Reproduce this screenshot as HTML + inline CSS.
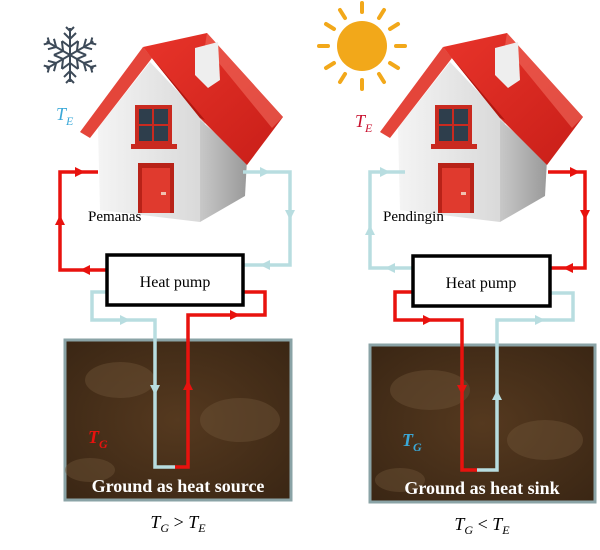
<!DOCTYPE html>
<html><head><meta charset="utf-8"><style>
body{margin:0;background:#fff;width:600px;height:545px;overflow:hidden}
svg text{font-family:"Liberation Serif",serif}
</style></head><body>
<svg width="600" height="545" viewBox="0 0 600 545" xmlns="http://www.w3.org/2000/svg">
<defs>
<linearGradient id="wall" x1="0" y1="0" x2="1" y2="0"><stop offset="0" stop-color="#f4f4f4"/><stop offset="1" stop-color="#d8d8d8"/></linearGradient>
<linearGradient id="side" x1="0" y1="0" x2="1" y2="0"><stop offset="0" stop-color="#c8c8c8"/><stop offset="1" stop-color="#9a9a9a"/></linearGradient>
<linearGradient id="roof" x1="0" y1="0" x2="1" y2="1"><stop offset="0" stop-color="#e8342a"/><stop offset="1" stop-color="#c81e18"/></linearGradient>
<radialGradient id="soil" cx="0.5" cy="0.5" r="0.7"><stop offset="0" stop-color="#55391f"/><stop offset="1" stop-color="#3a2614"/></radialGradient>
<g id="house">
 <polygon points="98,128 150,62 205,120 200,222 100,210" fill="url(#wall)"/>
 <polygon points="200,120 247,160 245,196 200,222" fill="url(#side)"/>
 <polygon points="143,47 207,33 283,117 247,165 200,118" fill="url(#roof)"/>
 <polygon points="207,33 283,117 272,128 205,46" fill="#f06a5e" opacity="0.6"/>
 <polygon points="143,47 152,58 90,138 80,132" fill="#e4453a"/>
 <polygon points="143,47 152,58 205,120 200,118" fill="#b01810"/>
 <polygon points="195,48 218,42 220,80 208,88 195,75" fill="#eeeeee"/>
 <rect x="135" y="105" width="37" height="40" fill="#c92a20"/>
 <rect x="139" y="109" width="29" height="32" fill="#2e3e4c"/>
 <rect x="152" y="109" width="2" height="32" fill="#c92a20"/><rect x="139" y="124" width="29" height="2" fill="#c92a20"/>
 <rect x="131" y="144" width="46" height="5" fill="#c92a20"/>
 <rect x="138" y="163" width="36" height="50" fill="#b82218"/>
 <rect x="142" y="168" width="28" height="45" fill="#e03a2e"/>
 <rect x="161" y="192" width="5" height="3" fill="#f0c0b0"/>
</g>
<g id="arm" stroke="#3d4a58" stroke-width="2" fill="none">
 <line x1="0" y1="0" x2="0" y2="-27"/>
 <polyline points="-6,-22 0,-16 6,-22"/>
 <polyline points="-8,-14 0,-8 8,-14"/>
 <polyline points="-4,-28 0,-24 4,-28"/>
</g>
<path id="arR" d="M-5,-5 L5,0 L-5,5 Z"/>
</defs>
<g transform="translate(70,55)">
<use href="#arm"/><use href="#arm" transform="rotate(60)"/><use href="#arm" transform="rotate(120)"/><use href="#arm" transform="rotate(180)"/><use href="#arm" transform="rotate(240)"/><use href="#arm" transform="rotate(300)"/>
</g>
<use href="#house"/>
<g fill="#f2a81a"><circle cx="362" cy="46" r="25"/></g>
<g stroke="#f2a81a" stroke-width="4" stroke-linecap="round">
<line x1="362" y1="3" x2="362" y2="12"/><line x1="362" y1="80" x2="362" y2="89"/><line x1="319" y1="46" x2="328" y2="46"/><line x1="396" y1="46" x2="405" y2="46"/>
<line x1="340" y1="10" x2="345" y2="18"/><line x1="379" y1="74" x2="384" y2="82"/><line x1="384" y1="10" x2="379" y2="18"/><line x1="345" y1="74" x2="340" y2="82"/>
<line x1="326" y1="24" x2="334" y2="29"/><line x1="390" y1="63" x2="398" y2="68"/><line x1="398" y1="24" x2="390" y2="29"/><line x1="334" y1="63" x2="326" y2="68"/>
</g>
<use href="#house" transform="translate(300,0)"/>

<rect x="65" y="340" width="226" height="160" fill="url(#soil)" stroke="#8aa3a6" stroke-width="3"/>
<rect x="370" y="345" width="225" height="157" fill="url(#soil)" stroke="#8aa3a6" stroke-width="3"/>
<g fill="#6e5438" opacity="0.45"><ellipse cx="120" cy="380" rx="35" ry="18"/><ellipse cx="240" cy="420" rx="40" ry="22"/><ellipse cx="430" cy="390" rx="40" ry="20"/><ellipse cx="545" cy="440" rx="38" ry="20"/><ellipse cx="90" cy="470" rx="25" ry="12"/><ellipse cx="400" cy="480" rx="25" ry="12"/></g>

<g fill="none" stroke-width="3.5">
<polyline points="107,270 60,270 60,172 98,172" stroke="#e8120e"/>
<polyline points="243,172 290,172 290,265 243,265" stroke="#b8dde0"/>
<polyline points="107,292 92,292 92,320 155,320 155,467 175,467" stroke="#b8dde0"/>
<polyline points="243,292 265,292 265,315 188,315 188,467 175,467" stroke="#e8120e"/>
<polyline points="412,268 370,268 370,172 405,172" stroke="#b8dde0"/>
<polyline points="548,172 585,172 585,268 550,268" stroke="#e8120e"/>
<polyline points="412,292 395,292 395,320 462,320 462,470 477,470" stroke="#e8120e"/>
<polyline points="550,293 573,293 573,320 497,320 497,470 477,470" stroke="#b8dde0"/>
</g>
<g fill="#e8120e">
<use href="#arR" transform="translate(80,172)"/><use href="#arR" transform="translate(60,220) rotate(-90)"/><use href="#arR" transform="translate(85,270) rotate(180)"/>
<use href="#arR" transform="translate(235,315)"/><use href="#arR" transform="translate(188,385) rotate(-90)"/>
<use href="#arR" transform="translate(575,172)"/><use href="#arR" transform="translate(585,215) rotate(90)"/><use href="#arR" transform="translate(568,268) rotate(180)"/>
<use href="#arR" transform="translate(428,320)"/><use href="#arR" transform="translate(462,390) rotate(90)"/>
</g>
<g fill="#b8dde0">
<use href="#arR" transform="translate(265,172)"/><use href="#arR" transform="translate(290,215) rotate(90)"/><use href="#arR" transform="translate(265,265) rotate(180)"/>
<use href="#arR" transform="translate(125,320)"/><use href="#arR" transform="translate(155,390) rotate(90)"/>
<use href="#arR" transform="translate(385,172)"/><use href="#arR" transform="translate(370,230) rotate(-90)"/><use href="#arR" transform="translate(390,268) rotate(180)"/>
<use href="#arR" transform="translate(540,320)"/><use href="#arR" transform="translate(497,395) rotate(-90)"/>
</g>

<rect x="107" y="255" width="136" height="50" fill="#fff" stroke="#000" stroke-width="3.5"/>
<rect x="413" y="256" width="137" height="50" fill="#fff" stroke="#000" stroke-width="3.5"/>
<text x="175" y="287" font-size="16" text-anchor="middle">Heat pump</text>
<text x="481" y="288" font-size="16" text-anchor="middle">Heat pump</text>

<text x="88" y="221" font-size="15">Pemanas</text>
<text x="383" y="221" font-size="15">Pendingin</text>

<text x="56" y="120" font-size="18" font-style="italic" fill="#3aa8d8">T<tspan font-size="12" dy="5">E</tspan></text>
<text x="355" y="127" font-size="18" font-style="italic" fill="#c8102e">T<tspan font-size="12" dy="5">E</tspan></text>
<text x="88" y="443" font-size="18" font-style="italic" fill="#e8120e" font-weight="bold">T<tspan font-size="12" dy="5">G</tspan></text>
<text x="402" y="446" font-size="18" font-style="italic" fill="#3aa8d8" font-weight="bold">T<tspan font-size="12" dy="5">G</tspan></text>

<text x="178" y="492" font-size="18" font-weight="bold" fill="#fff" text-anchor="middle">Ground as heat source</text>
<text x="482" y="494" font-size="18" font-weight="bold" fill="#fff" text-anchor="middle">Ground as heat sink</text>

<text x="178" y="528" font-size="18" font-style="italic" text-anchor="middle">T<tspan font-size="12" dy="4">G</tspan><tspan dy="-4" font-style="normal"> &gt; </tspan>T<tspan font-size="12" dy="4">E</tspan></text>
<text x="482" y="530" font-size="18" font-style="italic" text-anchor="middle">T<tspan font-size="12" dy="4">G</tspan><tspan dy="-4" font-style="normal"> &lt; </tspan>T<tspan font-size="12" dy="4">E</tspan></text>
</svg>
</body></html>
